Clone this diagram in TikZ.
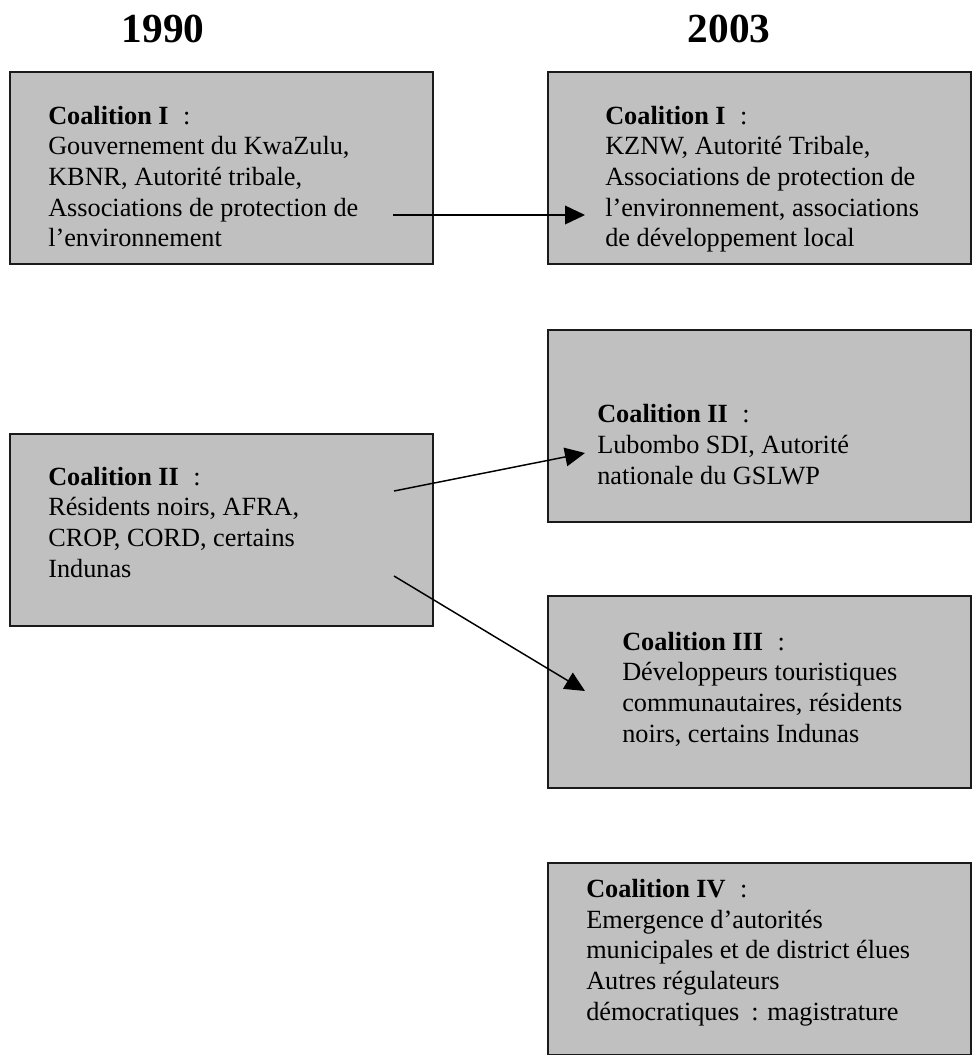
\documentclass[tikz,border=0pt]{standalone}
\usepackage{fontspec}
\setmainfont{Liberation Serif}
\usetikzlibrary{arrows.meta}
\definecolor{grisCaja}{HTML}{C0C0C0}
\definecolor{bordeCaja}{HTML}{1A1A1A}
\begin{document}
\begin{tikzpicture}[x=0.75pt, y=-0.75pt,
		caja/.style={draw=bordeCaja, line width=1.4pt, fill=grisCaja, anchor=north west,
			minimum width=317.25pt, minimum height=144pt, inner sep=0pt},
		texto/.style={anchor=base west, align=left, inner sep=0pt,
			font=\fontsize{19.7}{23}\selectfont},
		anio/.style={anchor=base, inner sep=0pt, font=\fontsize{31}{36}\selectfont\bfseries},
		flecha/.style={line width=1.1pt, -{Triangle[length=15pt, width=14pt]}}]
		\useasboundingbox (0,0) rectangle (972,1055);
		
		% Años
		\node[anio] (a1990) at (163,43) {1990};
		\node[anio] (a2003) at (729,43) {2003};
		
		% Cajas 1990
		\node[caja] (c1a) at (9,71) {};
		\node[caja] (c2a) at (9,433) {};
		
		% Cajas 2003
		\node[caja] (c1b) at (547,71) {};
		\node[caja] (c2b) at (547,329) {};
		\node[caja] (c3b) at (547,595) {};
		\node[caja] (c4b) at (547,862) {};
		
		% Textos (posición = línea base de la última línea)
		\node[texto] (t1a) at (48,247) {\textbf{Coalition I}\hspace{0.55em}:\\
			Gouvernement du KwaZulu,\\ KBNR, Autorité tribale,\\
			Associations de protection de\\ l’environnement};
		\node[texto] (t2a) at (48,577) {\textbf{Coalition II}\hspace{0.55em}:\\
			Résidents noirs, AFRA,\\ CROP, CORD, certains\\ Indunas};
		\node[texto] (t1b) at (605,247) {\textbf{Coalition I}\hspace{0.55em}:\\
			KZNW, Autorité Tribale,\\ Associations de protection de\\
			l’environnement, associations\\ de développement local};
		\node[texto] (t2b) at (597,484) {\textbf{Coalition II}\hspace{0.55em}:\\
			Lubombo SDI, Autorité\\ nationale du GSLWP};
		\node[texto] (t3b) at (622,742) {\textbf{Coalition III}\hspace{0.55em}:\\
			Développeurs touristiques\\ communautaires, résidents\\ noirs, certains Indunas};
		\node[texto] (t4b) at (586,1020) {\textbf{Coalition IV}\hspace{0.55em}:\\
			Emergence d’autorités\\ municipales et de district élues\\
			Autres régulateurs\\ démocratiques\hspace{0.45em}: magistrature};
		
		% Puntos de las flechas
		\coordinate (s1) at (393,215);
		\coordinate (e1) at (585,215);
		\coordinate (s2) at (394,491);
		\coordinate (e2) at (585,453);
		\coordinate (s3) at (394,576);
		\coordinate (e3) at (585,691);
		
		% Flechas
		\draw[flecha] (s1) -- (e1);
		\draw[flecha] (s2) -- (e2);
		\draw[flecha] (s3) -- (e3);
	\end{tikzpicture}
\end{document}
